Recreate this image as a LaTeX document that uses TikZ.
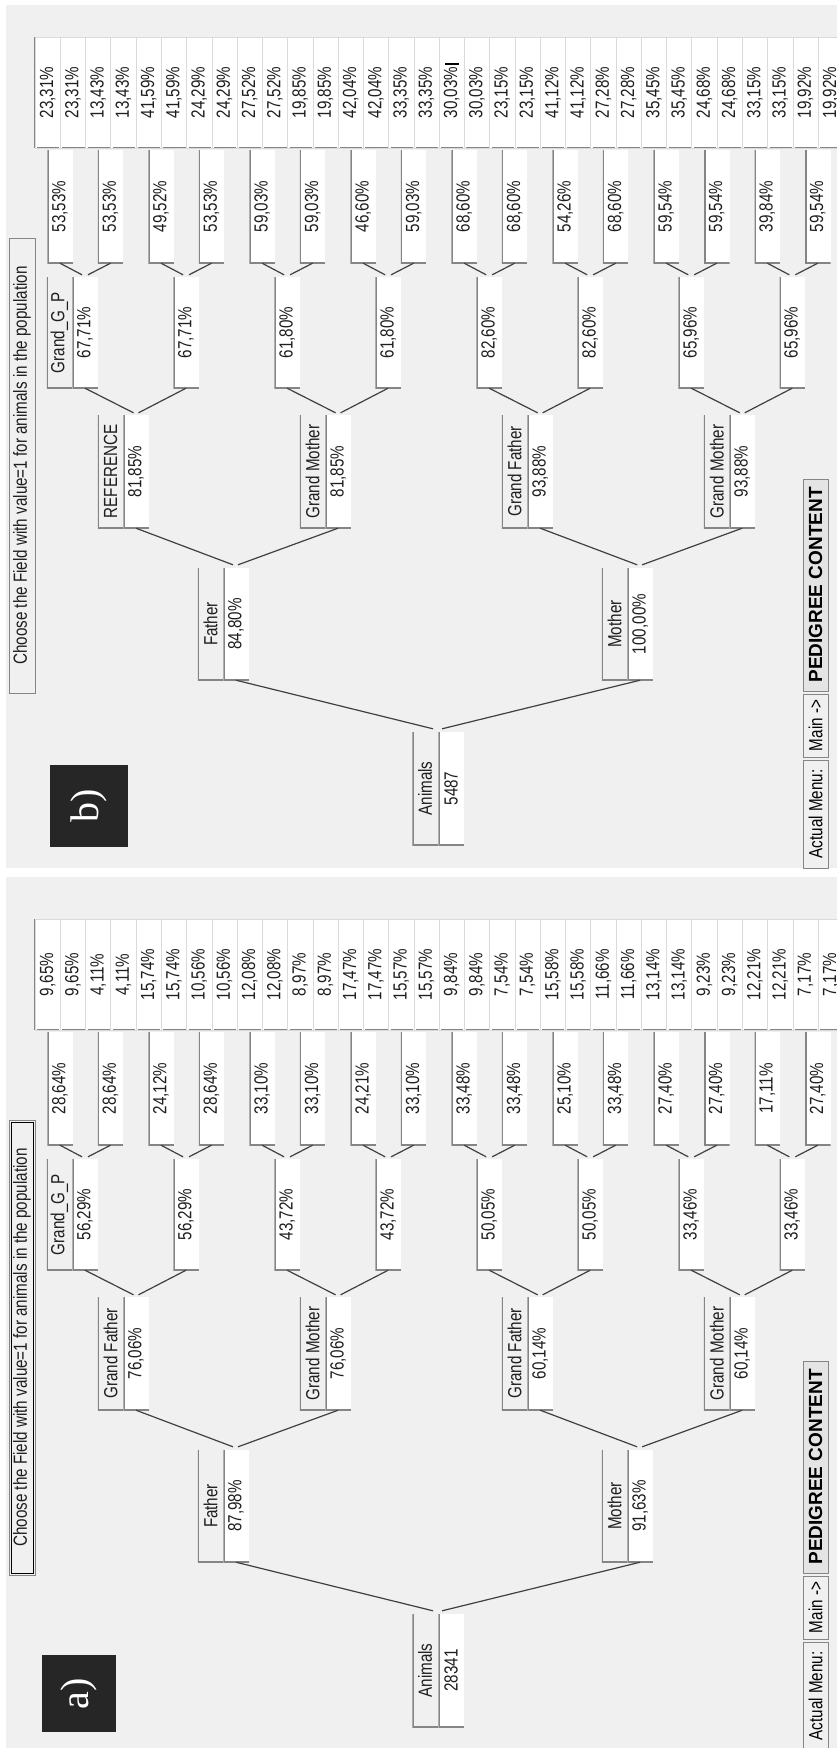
\documentclass[tikz,border=0pt]{standalone}
\usepackage{fontspec}
\usepackage{graphicx}
\newfontfamily\cf{Liberation Sans}[FakeStretch=0.8]
\newfontfamily\menufam{Liberation Sans}
\newfontfamily\panelfam{Liberation Serif}
\definecolor{panelbg}{HTML}{F0F0F0}
\definecolor{bord}{HTML}{858585}
\definecolor{connc}{HTML}{404040}
\definecolor{txt}{HTML}{1E1E1E}
\definecolor{leafline}{HTML}{DADADA}
\definecolor{menufill}{HTML}{E4E4E4}
\definecolor{tagbg}{HTML}{262626}
\tikzset{
  sunk/.style={path picture={\draw[bord, line width=3pt] (path picture bounding box.north west) -- (path picture bounding box.south west) -- (path picture bounding box.south east);}},
  cell/.style={inner sep=0pt, minimum width=25.5pt, minimum height=112pt, text=txt, font={\cf\fontsize{19}{22}\selectfont}},
  val/.style={cell, fill=white, sunk},
  lab/.style={cell, fill=panelbg, sunk},
  leaf/.style={cell, minimum width=25.26pt, minimum height=111pt, fill=white, draw=leafline, line width=0.6pt,
    path picture={\draw[bord, line width=3pt] ([xshift=2pt]path picture bounding box.south west) -- ([xshift=-1pt]path picture bounding box.south east);}},
  conn/.style={draw=connc, line width=1.2pt},
  hdr/.style={inner sep=0pt, minimum width=26pt, minimum height=455pt, draw=bord, line width=1pt, fill=panelbg, text=txt, font={\cf\fontsize{19}{22}\selectfont}},
  menu/.style={inner sep=0pt, minimum width=25pt, draw=bord, line width=1pt, fill=panelbg, text=black, font={\cf\fontsize{19}{22}\selectfont}},
  tag/.style={inner sep=0pt, fill=tagbg, text=white, font={\panelfam\fontsize{40}{44}\selectfont}},
}
\newcommand\pedpanel[8]{%
  \foreach \v [count=\i from 0] in {#2} {
    \node[leaf] (#1l\i) at ({47.63+25.26*\i},92.5) {\rotatebox{90}{\v\%}};
  }
  \draw[bord, line width=1.5pt] (#1l0.north west) -- (#1l0.south west);
  \foreach \v [count=\i from 0] in {#3} {
    \node[val, minimum height=113pt] (#1f\i) at ({60+50.52*\i},206.5) {\rotatebox{90}{\v\%}};
  }
  \foreach \v [count=\i from 0] in {#4} {
    \node[val, minimum height=111pt] (#1t\i) at ({85+101.04*\i},332.5) {\rotatebox{90}{\v\%}};
  }
  \node[lab, minimum height=111pt] (#1tl) at (59.5,332.5) {\rotatebox{90}{Grand\_G\_P}};
  \foreach \lab/\v [count=\i from 0] in {#5} {
    \node[lab, minimum height=113pt] (#1ul\i) at ({110.5+202.08*\i},471.5) {\rotatebox{90}{\lab}};
    \node[val, minimum height=113pt] (#1u\i) at ({136+202.08*\i},471.5) {\rotatebox{90}{\v\%}};
  }
  \node[lab] (#1pl0) at (210.5,624) {\rotatebox{90}{Father}};
  \node[val] (#1p0) at (236,624) {\rotatebox{90}{#6\%}};
  \node[lab] (#1pl1) at (614.66,624) {\rotatebox{90}{Mother}};
  \node[val] (#1p1) at (640.16,624) {\rotatebox{90}{#7\%}};
  \node[lab, minimum height=113pt] (#1rl) at (425,788.5) {\rotatebox{90}{Animals}};
  \node[val, minimum height=113pt] (#1r) at (451,788.5) {\rotatebox{90}{#8}};
  \foreach \k in {0,...,7} {
    \pgfmathtruncatemacro\ka{2*\k}\pgfmathtruncatemacro\kb{2*\k+1}
    \draw[conn] (#1f\ka.south) -- ([xshift=-3pt,yshift=2pt]#1t\k.north);
    \draw[conn] (#1f\kb.south) -- ([xshift=3pt,yshift=2pt]#1t\k.north);
  }
  \foreach \k in {0,...,3} {
    \pgfmathtruncatemacro\ka{2*\k}\pgfmathtruncatemacro\kb{2*\k+1}
    \draw[conn] (#1t\ka.south) -- ([xshift=-2.5pt,yshift=2pt]#1u\k.north);
    \draw[conn] (#1t\kb.south) -- ([xshift=2.5pt,yshift=2pt]#1u\k.north);
  }
  \foreach \k in {0,1} {
    \pgfmathtruncatemacro\ka{2*\k}\pgfmathtruncatemacro\kb{2*\k+1}
    \draw[conn] (#1u\ka.south) -- ([xshift=-3pt,yshift=3pt]#1p\k.north);
    \draw[conn] (#1u\kb.south) -- ([xshift=2pt,yshift=3pt]#1p\k.north);
  }
  \draw[conn] (#1p0.south) -- ([xshift=-5pt,yshift=3pt]#1r.north west);
  \draw[conn] (#1p1.south) -- ([xshift=4pt,yshift=3pt]#1r.north west);
  \node[hdr] (#1hd) at (22,465.5) {\rotatebox{90}{Choose the Field with value=1 for animals in the population}};
  \node[menu, fill=menufill, minimum height=212pt] (#1m1) at (815.5,585) {\rotatebox{90}{\menufam\bfseries PEDIGREE CONTENT}};
  \node[menu, minimum height=63pt] (#1m2) at (815.5,725.5) {\rotatebox{90}{Main ->}};
  \node[menu, minimum height=108pt] (#1m3) at (815.5,814) {\rotatebox{90}{Actual Menu:}};
}
\begin{document}
\begin{tikzpicture}[x=1pt,y=-1pt]
\useasboundingbox (0,0) rectangle (837,1748);
\clip (0,0) rectangle (837,1748);
\fill[white] (0,0) rectangle (837,1748);
\fill[panelbg] (6,5) rectangle (837,868);
\fill[panelbg] (6,877) rectangle (837,1752);
% panel b
\pedpanel{b}
 {{23,31},{23,31},{13,43},{13,43},{41,59},{41,59},{24,29},{24,29},{27,52},{27,52},{19,85},{19,85},{42,04},{42,04},{33,35},{33,35},{30,03},{30,03},{23,15},{23,15},{41,12},{41,12},{27,28},{27,28},{35,45},{35,45},{24,68},{24,68},{33,15},{33,15},{19,92},{19,92}}
 {{53,53},{53,53},{49,52},{53,53},{59,03},{59,03},{46,60},{59,03},{68,60},{68,60},{54,26},{68,60},{59,54},{59,54},{39,84},{59,54}}
 {{67,71},{67,71},{61,80},{61,80},{82,60},{82,60},{65,96},{65,96}}
 {REFERENCE/{81,85},Grand Mother/{81,85},Grand Father/{93,88},Grand Mother/{93,88}}
 {84,80}{100,00}{5487}
\draw[black, line width=2pt] (445,64) -- (459,64);
\node[tag, minimum width=78pt, minimum height=82pt] (tagb) at (89,806) {\rotatebox{90}{b)}};
% panel a
\begin{scope}[yshift=-882pt]
\pedpanel{a}
 {{9,65},{9,65},{4,11},{4,11},{15,74},{15,74},{10,56},{10,56},{12,08},{12,08},{8,97},{8,97},{17,47},{17,47},{15,57},{15,57},{9,84},{9,84},{7,54},{7,54},{15,58},{15,58},{11,66},{11,66},{13,14},{13,14},{9,23},{9,23},{12,21},{12,21},{7,17},{7,17}}
 {{28,64},{28,64},{24,12},{28,64},{33,10},{33,10},{24,21},{33,10},{33,48},{33,48},{25,10},{33,48},{27,40},{27,40},{17,11},{27,40}}
 {{56,29},{56,29},{43,72},{43,72},{50,05},{50,05},{33,46},{33,46}}
 {Grand Father/{76,06},Grand Mother/{76,06},Grand Father/{60,14},Grand Mother/{60,14}}
 {87,98}{91,63}{28341}
\draw[black, line width=0.8pt] ([shift={(2.5pt,2.5pt)}]ahd.south west) rectangle ([shift={(-2.5pt,-2.5pt)}]ahd.north east);
\end{scope}
\node[tag, minimum width=74pt, minimum height=77pt] (taga) at (79,1693.5) {\rotatebox{90}{a)}};
\end{tikzpicture}
\end{document}
